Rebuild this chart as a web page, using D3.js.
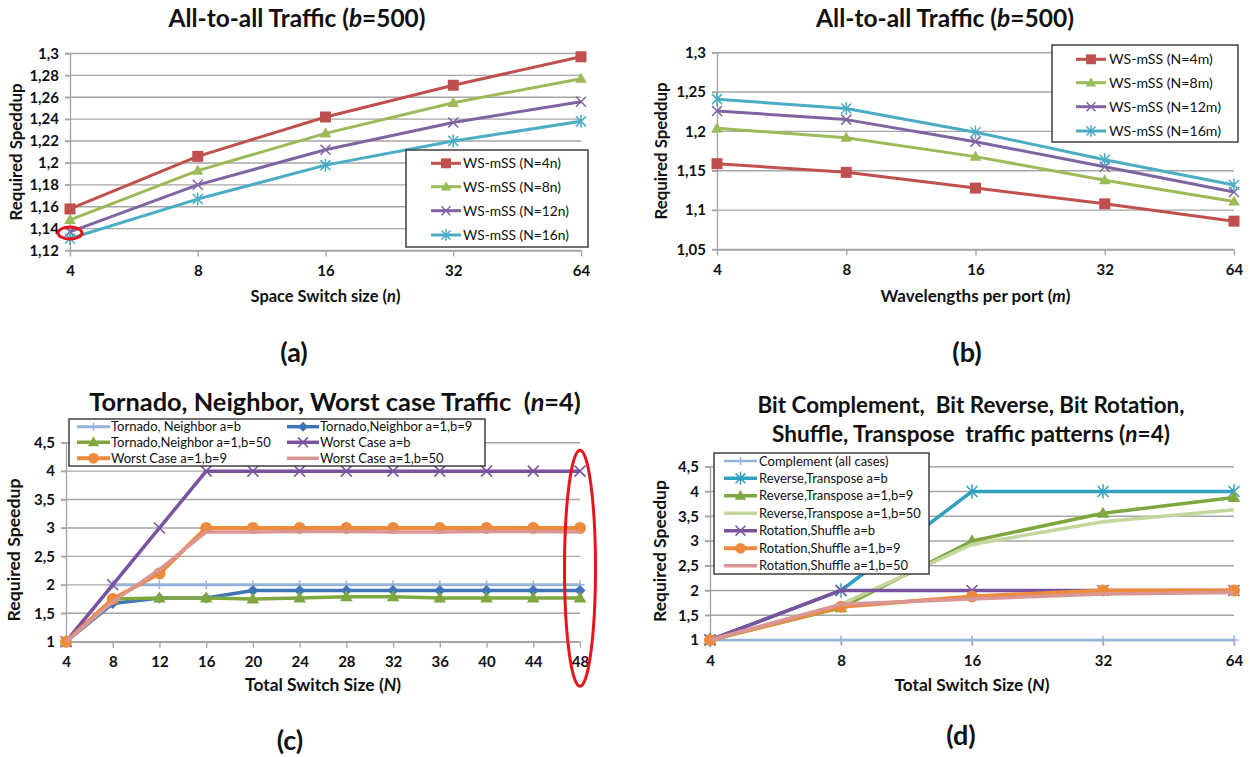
<!DOCTYPE html>
<html><head><meta charset="utf-8">
<script src="https://cdn.jsdelivr.net/npm/d3@7"></script>
<style>body{margin:0;background:#fff} svg{display:block} text{white-space:pre}</style>
</head><body><svg id="chart" width="1250" height="757"></svg>
<script>
// ---------------- data ----------------
const catsA = [4, 8, 16, 32, 64];
const ticksA = [1.12, 1.14, 1.16, 1.18, 1.2, 1.22, 1.24, 1.26, 1.28, 1.3];
const a_N4n  = [1.158, 1.206, 1.242, 1.271, 1.297];
const a_N8n  = [1.148, 1.193, 1.227, 1.255, 1.277];
const a_N12n = [1.137, 1.180, 1.212, 1.237, 1.256];
const a_N16n = [1.131, 1.167, 1.198, 1.220, 1.238];
const namesA = ["WS-mSS (N=4n)", "WS-mSS (N=8n)", "WS-mSS (N=12n)", "WS-mSS (N=16n)"];

const catsB = [4, 8, 16, 32, 64];
const ticksB = [1.05, 1.1, 1.15, 1.2, 1.25, 1.3];
const b_N4m  = [1.159, 1.148, 1.128, 1.108, 1.086];
const b_N8m  = [1.204, 1.192, 1.168, 1.138, 1.111];
const b_N12m = [1.226, 1.215, 1.187, 1.155, 1.123];
const b_N16m = [1.241, 1.229, 1.199, 1.164, 1.132];
const namesB = ["WS-mSS (N=4m)", "WS-mSS (N=8m)", "WS-mSS (N=12m)", "WS-mSS (N=16m)"];

const catsC = [4, 8, 12, 16, 20, 24, 28, 32, 36, 40, 44, 48];
const ticksC = [1, 1.5, 2, 2.5, 3, 3.5, 4, 4.5];
const c_TN_ab  = [1, 2, 2, 2, 2, 2, 2, 2, 2, 2, 2, 2];
const c_TN_b9  = [1, 1.67, 1.77, 1.77, 1.9, 1.9, 1.9, 1.9, 1.9, 1.9, 1.9, 1.9];
const c_TN_b50 = [1, 1.75, 1.77, 1.77, 1.75, 1.77, 1.79, 1.79, 1.77, 1.77, 1.77, 1.77];
const c_WC_ab  = [1, 2, 3, 4, 4, 4, 4, 4, 4, 4, 4, 4];
const c_WC_b9  = [1, 1.75, 2.2, 3, 3, 3, 3, 3, 3, 3, 3, 3];
const c_WC_b50 = [1, 1.7, 2.27, 2.93, 2.93, 2.94, 2.94, 2.93, 2.93, 2.94, 2.94, 2.93];
const namesC = ["Tornado, Neighbor a=b", "Tornado,Neighbor a=1,b=9", "Tornado,Neighbor a=1,b=50",
                "Worst Case a=b", "Worst Case a=1,b=9", "Worst Case a=1,b=50"];

const catsD = [4, 8, 16, 32, 64];
const ticksD = [1, 1.5, 2, 2.5, 3, 3.5, 4, 4.5];
const d_comp    = [1, 1, 1, 1, 1];
const d_rev_ab  = [1, 2, 4, 4, 4];
const d_rev_b9  = [1, 1.65, 3.0, 3.56, 3.88];
const d_rev_b50 = [1, 1.72, 2.93, 3.39, 3.63];
const d_rot_ab  = [1, 2, 2, 2, 2];
const d_rot_b9  = [1, 1.67, 1.88, 2.0, 2.0];
const d_rot_b50 = [1, 1.72, 1.83, 1.93, 1.96];
const namesD = ["Complement (all cases)", "Reverse,Transpose a=b", "Reverse,Transpose a=1,b=9",
                "Reverse,Transpose a=1,b=50", "Rotation,Shuffle a=b", "Rotation,Shuffle a=1,b=9",
                "Rotation,Shuffle a=1,b=50"];

// annotations (data coordinates)
const ringA = {x: 4, y: 1.136};
const ringC = {x: 48, y: 2.29};

// ---------------- drawing ----------------
const FONT = "Lato, 'Open Sans', 'Liberation Sans', sans-serif";
const GRID = "#a6a6a6";
const svg = d3.select("#chart");
const fmt = d => String(d).replace(".", ",");

// scale a text's font so that its rendered width matches a target width
function fitWidth(t, target) {
  const w = t.node().getComputedTextLength();
  if (w > 0) t.attr("font-size", (+t.attr("font-size")) * target / w);
  return +t.attr("font-size");
}

function markerPath(type, s) {
  switch (type) {
    case "square": return `M${-s},${-s}h${2*s}v${2*s}h${-2*s}Z`;
    case "triangle": return `M0,${-s*1.1}L${s*1.05},${s*0.75}L${-s*1.05},${s*0.75}Z`;
    case "diamond": return `M0,${-s}L${s},0L0,${s}L${-s},0Z`;
    case "circle": return d3.arc()({innerRadius:0, outerRadius:s, startAngle:0, endAngle:2*Math.PI});
    case "x": return `M${-s},${-s}L${s},${s}M${-s},${s}L${s},${-s}`;
    case "asterisk": return `M${-s},${-s}L${s},${s}M${-s},${s}L${s},${-s}M0,${-s*1.3}L0,${s*1.3}`;
    case "plus": return `M0,${-s}L0,${s}M${-s},0L${s},0`;
  }
  return "";
}
const filled = t => ["square", "triangle", "diamond", "circle"].includes(t);

function drawMarker(g, type, size, color, cx, cy) {
  if (!type) return;
  const p = g.append("path").attr("d", markerPath(type, size)).attr("transform", `translate(${cx},${cy})`);
  if (filled(type)) p.attr("fill", color).attr("stroke", "none");
  else p.attr("fill", "none").attr("stroke", color).attr("stroke-width", 1.5);
}

function richText(g, parts, x, y, size, target, rotate) {
  const t = g.append("text").attr("x", x).attr("y", y)
    .attr("font-family", FONT).attr("font-weight", 700).attr("font-size", size)
    .attr("text-anchor", "middle").attr("fill", "#111");
  if (rotate) t.attr("transform", `rotate(-90,${x},${y})`);
  parts.forEach(p => t.append("tspan").text(p[0]).attr("font-style", p[1] ? "italic" : null));
  if (target) fitWidth(t, target);
  return t;
}

function drawPanel(p) {
  const g = svg.append("g");
  const x = d3.scalePoint().domain(p.cats).range([p.x0, p.x1]);
  const y = d3.scaleLinear().domain([p.ticks[0], p.ticks[p.ticks.length - 1]]).range([p.yb, p.yt]);

  // gridlines
  g.append("g").selectAll("line").data(p.ticks).join("line")
    .attr("x1", p.x0 - 5).attr("x2", p.x1)
    .attr("y1", d => y(d)).attr("y2", d => y(d))
    .attr("stroke", GRID).attr("stroke-width", 1.4);

  // y axis
  const ya = g.append("g").attr("transform", `translate(${p.x0},0)`)
    .call(d3.axisLeft(y).tickValues(p.ticks).tickSize(5).tickSizeOuter(0).tickPadding(6).tickFormat(fmt));
  ya.selectAll("line,path").attr("stroke", GRID).attr("stroke-width", 1.4);
  ya.selectAll("text").attr("font-family", FONT).attr("font-weight", 700).attr("font-size", 15).attr("fill", "#111");

  // x axis
  const xa = g.append("g").attr("transform", `translate(0,${p.yb})`)
    .call(d3.axisBottom(x).tickSize(6).tickSizeOuter(0).tickPadding(9));
  xa.selectAll("line,path").attr("stroke", GRID).attr("stroke-width", 1.4);
  xa.selectAll("text").attr("font-family", FONT).attr("font-weight", 700).attr("font-size", 15).attr("fill", "#111");

  // series
  const line = d3.line().x((d, i) => x(p.cats[i])).y(d => y(d));
  p.series.forEach(s => {
    g.append("path").datum(s.values).attr("d", line)
      .attr("fill", "none").attr("stroke", s.color).attr("stroke-width", s.width || 3)
      .attr("stroke-linejoin", "round");
    if (s.marker) s.values.forEach((v, i) => drawMarker(g, s.marker, s.msize || 5, s.color, x(p.cats[i]), y(v)));
  });

  // legend
  const L = p.legend;
  const lg = g.append("g");
  lg.append("rect").attr("x", L.box[0]).attr("y", L.box[1]).attr("width", L.box[2]).attr("height", L.box[3])
    .attr("fill", "#fff").attr("stroke", "#333").attr("stroke-width", 1.4);
  const texts = [];
  p.series.forEach((s, i) => {
    const c = L.cols ? i % L.cols : 0;
    const r = L.cols ? Math.floor(i / L.cols) : i;
    const lx = L.lineX[c], ly = L.rows[r];
    lg.append("line").attr("x1", lx[0]).attr("x2", lx[1]).attr("y1", ly).attr("y2", ly)
      .attr("stroke", s.color).attr("stroke-width", s.width || 3);
    if (s.marker) drawMarker(lg, s.marker, (s.msize || 5) * 0.9, s.color, (lx[0] + lx[1]) / 2, ly);
    texts.push(lg.append("text").attr("x", L.textX[c]).attr("y", ly).attr("dy", "0.35em")
      .attr("font-family", FONT).attr("font-size", 14).attr("fill", "#111").text(s.name));
  });
  const fs = fitWidth(texts[L.fitIndex], L.fitWidth);
  texts.forEach(t => t.attr("font-size", fs));

  // titles
  p.title.forEach(t => richText(g, t.parts, t.x, t.y, 22, t.w));
  richText(g, p.xlabel, (p.x0 + p.x1) / 2, p.xlabelY, 16, p.xlabelW);
  richText(g, p.ylabel, p.ylabelX, p.ylabelCY, 16.5, p.ylabelW, true);
  richText(g, [[p.tag, false]], p.tagX, p.tagY, 27);

  // annotation ring
  if (p.ring) {
    g.append("ellipse").attr("cx", x(p.ring.x)).attr("cy", y(p.ring.y))
      .attr("rx", p.ring.rx).attr("ry", p.ring.ry)
      .attr("fill", "none").attr("stroke", "#e8141c").attr("stroke-width", 3);
  }
}

// Panel (a)
drawPanel({
  cats: catsA, ticks: ticksA, x0: 70, x1: 581, yb: 250.5, yt: 53.5,
  series: [
    {name: namesA[0], values: a_N4n, color: "#c0504d", marker: "square", msize: 5.5},
    {name: namesA[1], values: a_N8n, color: "#9bbb59", marker: "triangle", msize: 5.5},
    {name: namesA[2], values: a_N12n, color: "#8064a2", marker: "x", msize: 5},
    {name: namesA[3], values: a_N16n, color: "#4bacc6", marker: "asterisk", msize: 5}
  ],
  legend: {box: [406, 150, 182, 97], rows: [163.3, 186.7, 210.7, 235], lineX: [[431, 461]], textX: [463], fitIndex: 3, fitWidth: 106},
  title: [{parts: [["All-to-all Traffic (", false], ["b", true], ["=500)", false]], x: 297, y: 27, w: 257}],
  xlabel: [["Space Switch size (", false], ["n", true], [")", false]], xlabelY: 302, xlabelW: 150,
  ylabel: [["Required Speddup", false]], ylabelX: 22, ylabelCY: 152, ylabelW: 137,
  tag: "(a)", tagX: 294, tagY: 362,
  ring: {x: ringA.x, y: ringA.y, rx: 12, ry: 6}
});

// Panel (b)
drawPanel({
  cats: catsB, ticks: ticksB, x0: 717, x1: 1234, yb: 249.5, yt: 52.7,
  series: [
    {name: namesB[0], values: b_N4m, color: "#c0504d", marker: "square", msize: 5.5},
    {name: namesB[1], values: b_N8m, color: "#9bbb59", marker: "triangle", msize: 5.5},
    {name: namesB[2], values: b_N12m, color: "#8064a2", marker: "x", msize: 5},
    {name: namesB[3], values: b_N16m, color: "#4bacc6", marker: "asterisk", msize: 5}
  ],
  legend: {box: [1052, 45, 186, 97], rows: [59.3, 82.7, 106.7, 131], lineX: [[1076, 1106]], textX: [1109], fitIndex: 3, fitWidth: 112},
  title: [{parts: [["All-to-all Traffic (", false], ["b", true], ["=500)", false]], x: 945, y: 27, w: 258}],
  xlabel: [["Wavelengths per port (", false], ["m", true], [")", false]], xlabelY: 302, xlabelW: 190,
  ylabel: [["Required Speddup", false]], ylabelX: 667, ylabelCY: 151, ylabelW: 137,
  tag: "(b)", tagX: 967, tagY: 362
});

// Panel (c)
drawPanel({
  cats: catsC, ticks: ticksC, x0: 66, x1: 580, yb: 641.7, yt: 442.7,
  series: [
    {name: namesC[0], values: c_TN_ab, color: "#95b3d7", marker: "plus", msize: 4.5, width: 3},
    {name: namesC[1], values: c_TN_b9, color: "#3f75b8", marker: "diamond", msize: 5.5, width: 3.5},
    {name: namesC[2], values: c_TN_b50, color: "#7ea83f", marker: "triangle", msize: 6, width: 3.5},
    {name: namesC[3], values: c_WC_ab, color: "#7a53a0", marker: "x", msize: 5.5, width: 3.5},
    {name: namesC[4], values: c_WC_b9, color: "#ed8a3c", marker: "circle", msize: 6, width: 4},
    {name: namesC[5], values: c_WC_b50, color: "#d99694", width: 3.5}
  ],
  legend: {box: [69, 419, 416, 47], cols: 2, rows: [426.7, 442.3, 458.3], lineX: [[77, 110], [287, 319]], textX: [111, 320], fitIndex: 2, fitWidth: 160},
  title: [{parts: [["Tornado, Neighbor, Worst case Traffic  (", false], ["n", true], ["=4)", false]], x: 335, y: 411, w: 492}],
  xlabel: [["Total Switch Size (", false], ["N", true], [")", false]], xlabelY: 691, xlabelW: 156,
  ylabel: [["Required Speedup", false]], ylabelX: 20, ylabelCY: 550, ylabelW: 143,
  tag: "(c)", tagX: 290, tagY: 750,
  ring: {x: ringC.x, y: ringC.y, rx: 15.5, ry: 118}
});

// Panel (d)
drawPanel({
  cats: catsD, ticks: ticksD, x0: 710, x1: 1234, yb: 640, yt: 466.7,
  series: [
    {name: namesD[0], values: d_comp, color: "#95b3d7", marker: "plus", msize: 4.5, width: 2.5},
    {name: namesD[1], values: d_rev_ab, color: "#31a1c0", marker: "asterisk", msize: 5.5, width: 3.5},
    {name: namesD[2], values: d_rev_b9, color: "#7ea83f", marker: "triangle", msize: 6, width: 3.5},
    {name: namesD[3], values: d_rev_b50, color: "#c3d69b", width: 3.5},
    {name: namesD[4], values: d_rot_ab, color: "#7a53a0", marker: "x", msize: 5.5, width: 3.5},
    {name: namesD[5], values: d_rot_b9, color: "#ed8a3c", marker: "circle", msize: 6, width: 4},
    {name: namesD[6], values: d_rot_b50, color: "#d99694", width: 3.5}
  ],
  legend: {box: [714, 453, 215, 121], rows: [461, 478.3, 495.7, 513.3, 530.7, 548.3, 565.7], lineX: [[724, 757]], textX: [759], fitIndex: 3, fitWidth: 162},
  title: [
    {parts: [["Bit Complement,  Bit Reverse, Bit Rotation,", false]], x: 971, y: 413, w: 427},
    {parts: [["Shuffle, Transpose  traffic patterns (", false], ["n", true], ["=4)", false]], x: 971, y: 442, w: 398}
  ],
  xlabel: [["Total Switch Size (", false], ["N", true], [")", false]], xlabelY: 691, xlabelW: 155,
  ylabel: [["Required Speedup", false]], ylabelX: 666, ylabelCY: 551, ylabelW: 142,
  tag: "(d)", tagX: 961, tagY: 745
});
</script>
</body></html>
